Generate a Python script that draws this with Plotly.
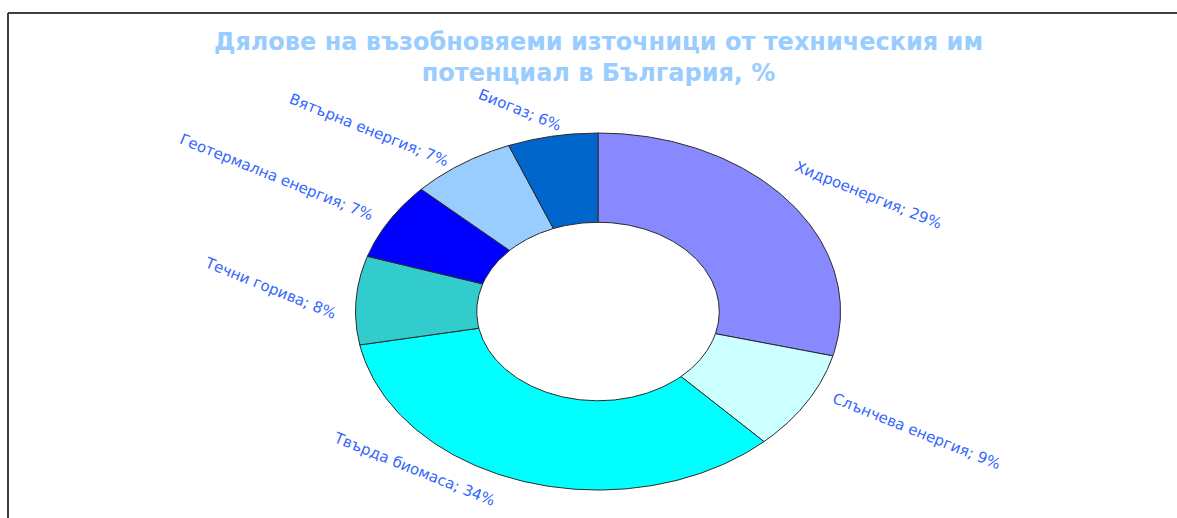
import numpy as np
import plotly.graph_objects as go

# ---- data ----
categories = ["Хидроенергия", "Слънчева енергия", "Твърда биомаса", "Течни горива",
              "Геотермална енергия", "Вятърна енергия", "Биогаз"]
shares = [29, 9, 34, 8, 7, 7, 6]
title_text = "Дялове на възобновяеми източници от техническия им<br>потенциал в България, %"

# ---- style / layout ----
colors = ["#8888ff", "#ccffff", "#00ffff", "#33cccc", "#0000ff", "#99ccff", "#0066cc"]
W, H = 1177, 518
cx, cy = 598, 311.5          # donut centre (px)
ax_r, by_r = 242.5, 178.5    # outer semi-axes (px)
hole = 0.5
# label centres (px), text rotated
label_pos = [(868, 195), (916, 431), (414, 469), (270, 288), (276, 177), (369, 130), (520, 110)]
label_angle = 22

fig = go.Figure()
total = sum(shares)
start = 0.0
for name, v, col in zip(categories, shares, colors):
    t0 = start / total * 2 * np.pi
    t1 = (start + v) / total * 2 * np.pi
    start += v
    th = np.linspace(t0, t1, 120)
    xo = cx + ax_r * np.sin(th)
    yo = cy - by_r * np.cos(th)
    xi = cx + ax_r * hole * np.sin(th[::-1])
    yi = cy - by_r * hole * np.cos(th[::-1])
    xs = np.concatenate([xo, xi, xo[:1]])
    ys = np.concatenate([yo, yi, yo[:1]])
    fig.add_trace(go.Scatter(x=xs, y=ys, mode="lines", fill="toself", fillcolor=col,
                             line=dict(color="#2a2a2a", width=1), name=name,
                             hoverinfo="skip", showlegend=False))

for name, v, (lx, ly) in zip(categories, shares, label_pos):
    fig.add_annotation(x=lx, y=ly, xref="x", yref="y", text=f"{name}; {v}%",
                       showarrow=False, textangle=label_angle,
                       xanchor="center", yanchor="middle",
                       font=dict(family="DejaVu Sans", size=15, color="#3366ff"))

fig.add_annotation(x=598, y=57, xref="x", yref="y", text=title_text, showarrow=False,
                   xanchor="center", yanchor="middle",
                   font=dict(family="DejaVu Sans", size=24, color="#99ccff", weight="bold"))

fig.add_shape(type="line", x0=8, x1=W, y0=13, y1=13, xref="x", yref="y",
              line=dict(color="#404040", width=2))
fig.add_shape(type="line", x0=8, x1=8, y0=13, y1=H, xref="x", yref="y",
              line=dict(color="#404040", width=2))

fig.update_layout(
    width=W, height=H, margin=dict(l=0, r=0, t=0, b=0),
    paper_bgcolor="white", plot_bgcolor="white", showlegend=False,
    xaxis=dict(range=[0, W], visible=False, fixedrange=True),
    yaxis=dict(range=[H, 0], visible=False, fixedrange=True),
)

fig.write_html("out.html", config={"displayModeBar": False},
               post_script="document.body.style.margin='0';document.body.style.overflow='hidden';")
